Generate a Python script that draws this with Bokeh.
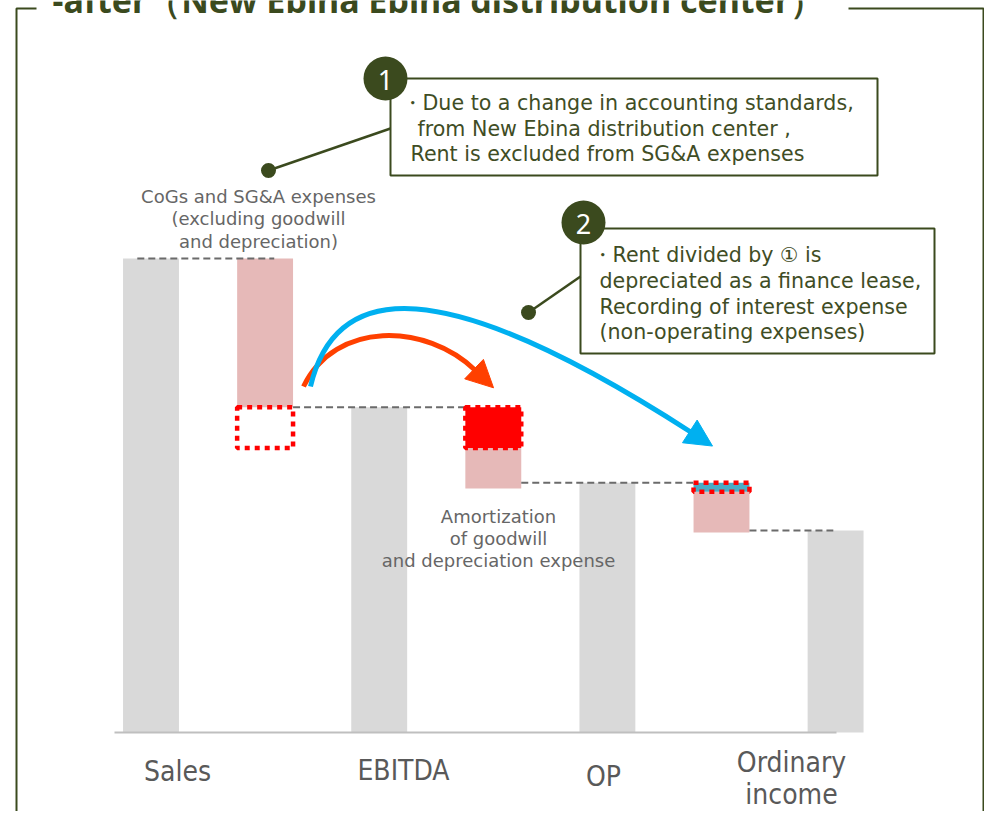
from bokeh.plotting import figure
from bokeh.models import Range1d
from bokeh.core.properties import value
from bokeh.embed import file_html
from bokeh.resources import INLINE
import numpy as np

# ---------------- data (Sales = 100) ----------------
categories = ["Sales", "CoGs and SG&A expenses", "EBITDA", "Amortization",
              "OP", "Non-operating", "Ordinary income"]
sales = 100.0
cogs_sga_after = 31.4          # CoGs and SG&A (excluding goodwill and depreciation), after
rent_excluded = 8.6            # rent removed from SG&A (dotted box)
ebitda = 68.6
rent_depreciation = 8.6        # rent depreciated as finance lease (red box)
amortization_other = 8.5       # amortization of goodwill and depreciation
op = 52.7
interest_expense = 1.9         # interest expense (blue box)
non_operating_other = 8.6
ordinary_income = 42.6

axis_labels = ["Sales", "EBITDA", "OP", "Ordinary\nincome"]

# ---------------- layout helpers ----------------
W, H = 984, 811
PXU = 114.1      # px per category step
PYU = 4.74       # px per value unit
X0PX, Y0PX = 150.5, 732.0

def X(px):
    return (px - X0PX) / PXU

def Y(py):
    return (Y0PX - py) / PYU

p = figure(width=W, height=H, output_backend="svg", toolbar_location=None,
           x_range=Range1d(X(0), X(W)), y_range=Range1d(Y(H), Y(0)),
           x_axis_location=None, y_axis_location=None,
           min_border=0, min_border_left=0, min_border_right=0,
           min_border_top=0, min_border_bottom=0)
p.grid.visible = False
p.outline_line_color = None
p.background_fill_color = "white"
p.border_fill_color = "white"

OLIVE = "#3b4a1e"
TXT_OLIVE = "#3f4d25"
GREY_BAR = "#d9d9d9"
PINK = "#e6b9b8"
RED = "#ff0000"
BW = 0.49
FONT = value("DejaVu Sans")

# ---------------- frame ----------------
p.line([X(16), X(16), X(36)], [Y(813), Y(8), Y(8)], line_color=OLIVE, line_width=2)
p.line([X(848), X(983), X(983)], [Y(8), Y(8), Y(813)], line_color=OLIVE, line_width=2)
p.text(x=[X(52)], y=[Y(-1)], text=["-after（New Ebina Ebina distribution center）"],
       text_font=value("Noto Sans"), text_font_style="bold", text_font_size="34px",
       text_color=OLIVE, text_baseline="alphabetic", text_align="left")

# ---------------- bars ----------------
tot_x = [0, 2, 4, 6]
tot_top = [sales, ebitda, op, ordinary_income]
p.vbar(x=tot_x, top=tot_top, bottom=0, width=BW, fill_color=GREY_BAR, line_color=None)

cogs_bottom = sales - cogs_sga_after
amort_top = ebitda - rent_depreciation
amort_bottom = amort_top - amortization_other
nonop_top = op - interest_expense
nonop_bottom = nonop_top - non_operating_other
p.vbar(x=[1, 3, 5], top=[sales, amort_top, nonop_top],
       bottom=[cogs_bottom, amort_bottom, nonop_bottom],
       width=BW, fill_color=PINK, line_color=None)

# axis line
p.line([X(114), X(836)], [0, 0], line_color="#bfbfbf", line_width=2)

# dashed connectors
dash_kw = dict(line_color="#6b6b6b", line_width=2, line_dash="7 4")
p.line([0 - 0.12, 1 + 0.08], [sales, sales], **dash_kw)
p.line([1 + BW / 2, 3 - BW / 2], [ebitda, ebitda], **dash_kw)
p.line([3 + BW / 2, 5 - BW / 2], [op, op], **dash_kw)
p.line([5 + BW / 2, 6 - 0.02], [ordinary_income, ordinary_income], **dash_kw)

# dotted highlight boxes
dot_kw = dict(line_color=RED, line_width=4.5, line_dash="5 5")
p.vbar(x=[1], top=[cogs_bottom], bottom=[cogs_bottom - rent_excluded], width=BW,
       fill_color=None, **dot_kw)
p.vbar(x=[3], top=[ebitda], bottom=[ebitda - rent_depreciation], width=BW,
       fill_color=RED, **dot_kw)
p.vbar(x=[5], top=[op], bottom=[op - interest_expense], width=BW,
       fill_color="#4bacc6", **dot_kw)

# ---------------- curved arrows ----------------
def curved_arrow(pts, color, head_len=27, head_w=27):
    (x0, y0), (c0x, c0y), (c1x, c1y), (x1, y1) = pts
    p.bezier(x0=[X(x0)], y0=[Y(y0)], x1=[X(x1)], y1=[Y(y1)],
             cx0=[X(c0x)], cy0=[Y(c0y)], cx1=[X(c1x)], cy1=[Y(c1y)],
             line_color=color, line_width=5)
    d = np.array([x1 - c1x, y1 - c1y], dtype=float)
    d /= np.hypot(*d)
    n = np.array([-d[1], d[0]])
    base = np.array([x1, y1]) - d * 2
    tip = base + d * head_len
    a = base + n * head_w / 2
    b = base - n * head_w / 2
    p.patch([X(a[0]), X(tip[0]), X(b[0])], [Y(a[1]), Y(tip[1]), Y(b[1])],
            fill_color=color, line_color=color, line_width=1)

curved_arrow([(303, 386), (335, 320), (425, 322), (475, 370)], "#ff4000")
curved_arrow([(310, 386), (335, 280), (440, 270), (691, 432)], "#00b0f0")

# ---------------- call-out boxes ----------------
p.quad(left=[X(390)], right=[X(877)], top=[Y(78)], bottom=[Y(175)],
       fill_color="white", line_color=OLIVE, line_width=2)
p.quad(left=[X(580)], right=[X(934)], top=[Y(228)], bottom=[Y(353)],
       fill_color="white", line_color=OLIVE, line_width=2)
p.line([X(268), X(390)], [Y(170), Y(128)], line_color=OLIVE, line_width=2.5)
p.line([X(528), X(580)], [Y(312), Y(276)], line_color=OLIVE, line_width=2.5)
p.scatter(x=[X(268), X(528)], y=[Y(170), Y(312)], size=15, marker="circle",
          fill_color=OLIVE, line_color=None)
p.scatter(x=[X(385), X(583)], y=[Y(78), Y(222)], size=44, marker="circle",
          fill_color=OLIVE, line_color=None)
p.text(x=[X(385), X(583)], y=[Y(79), Y(223)], text=["1", "2"],
       text_font=value("Noto Sans"), text_font_size="27px", text_color="white",
       text_align="center", text_baseline="middle")

box_kw = dict(text_font=FONT, text_font_size="20.6px",
              text_color=TXT_OLIVE, text_align="left", text_baseline="middle")
p.text(x=[X(401), X(417), X(410)], y=[Y(102), Y(128), Y(153)],
       text=["・Due to a change in accounting standards,",
             "from New Ebina distribution center ,",
             "Rent is excluded from SG&A expenses"], **box_kw)
p.text(x=[X(591), X(599), X(599), X(599)], y=[Y(254), Y(280), Y(306), Y(331)],
       text=["・Rent divided by ① is",
             "depreciated as a finance lease,",
             "Recording of interest expense",
             "(non-operating expenses)"], **box_kw)

# ---------------- grey descriptive labels ----------------
grey_kw = dict(text_font=FONT, text_font_size="18px",
               text_color="#666666", text_align="center", text_baseline="middle")
p.text(x=[X(258)] * 3, y=[Y(196), Y(218), Y(241)],
       text=["CoGs and SG&A expenses", "(excluding goodwill", "and depreciation)"], **grey_kw)
p.text(x=[X(498)] * 3, y=[Y(516), Y(538), Y(560)],
       text=["Amortization", "of goodwill", "and depreciation expense"], **grey_kw)

# ---------------- category labels ----------------
cat_kw = dict(text_font=value("DejaVu Sans Condensed, Liberation Sans Narrow, sans-serif"),
              text_font_size="28px",
              text_color="#595959", text_align="center", text_baseline="middle")
p.text(x=[X(177), X(403), X(603), X(791), X(791)],
       y=[Y(771), Y(770), Y(776), Y(762), Y(794)],
       text=[axis_labels[0], axis_labels[1], axis_labels[2]] + axis_labels[3].split("\n"),
       **cat_kw)

open("out.html", "w").write(file_html(p, INLINE))
